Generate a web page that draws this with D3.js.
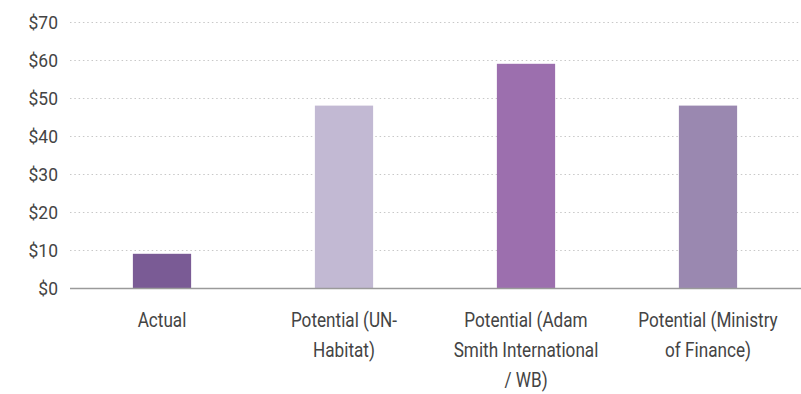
<!DOCTYPE html>
<html>
<head>
<meta charset="utf-8">
<script src="https://cdn.jsdelivr.net/npm/d3@7"></script>
<style>
  html, body { margin: 0; padding: 0; background: #fff; }
  svg { display: block; }
  text { font-family: Roboto, "Noto Sans", sans-serif; }
</style>
</head>
<body>
<svg id="chart" width="801" height="394"></svg>
<script>
const categories = ["Actual", "Potential (UN-Habitat)", "Potential (Adam Smith International / WB)", "Potential (Ministry of Finance)"];
const tickLabelLines = [["Actual"], ["Potential (UN-", "Habitat)"], ["Potential (Adam", "Smith International", "/ WB)"], ["Potential (Ministry", "of Finance)"]];
const values = [9, 48, 59, 48];
const colors = ["#7a5b95", "#c2b9d3", "#9c6fae", "#9a88b0"];
const yTicks = [0, 10, 20, 30, 40, 50, 60, 70];

(function() {
const svg = d3.select("#chart");
const mLeft = 71, mRight = 799, mTop = 22, mBottom = 288;

const x = d3.scaleBand().domain(categories).range([mLeft, mRight]).paddingInner(0.68).paddingOuter(0.34);
const y = d3.scaleLinear().domain([0, 70]).range([mBottom, mTop]);

// gridlines
svg.append("g").selectAll("line").data(yTicks.filter(d => d > 0)).join("line")
  .attr("x1", mLeft - 1).attr("x2", 801)
  .attr("y1", d => Math.round(y(d)) + 0.5).attr("y2", d => Math.round(y(d)) + 0.5)
  .attr("stroke", "#c8c8c8").attr("stroke-width", 1).attr("stroke-dasharray", "1.5,2.8");

// y axis labels
const yAxis = d3.axisLeft(y).tickValues(yTicks).tickSize(0).tickPadding(0).tickFormat(d => "$" + d);
const gy = svg.append("g").attr("transform", `translate(${mLeft - 13},0)`).call(yAxis);
gy.select(".domain").remove();
gy.selectAll("text").attr("fill", "#444").attr("dy", "0.34em").attr("transform", "scale(0.92,1)")
  .style("font-size", "19px").style("font-family", "Roboto, sans-serif");

// bars
svg.append("g").selectAll("rect").data(values).join("rect")
  .attr("x", (d, i) => x(categories[i]))
  .attr("width", x.bandwidth())
  .attr("y", d => y(d))
  .attr("height", d => y(0) - y(d))
  .attr("fill", (d, i) => colors[i]);

// baseline
svg.append("line").attr("x1", mLeft - 1).attr("x2", 801)
  .attr("y1", mBottom + 0.5).attr("y2", mBottom + 0.5)
  .attr("stroke", "#9a9a9a").attr("stroke-width", 1.5);

// x labels
const xAxis = d3.axisBottom(x).tickSize(0).tickFormat("");
const gx = svg.append("g").attr("transform", `translate(0,${mBottom})`).call(xAxis);
gx.select(".domain").remove();
gx.selectAll(".tick").each(function(d, i) {
  const t = d3.select(this).append("text")
    .attr("text-anchor", "middle").attr("fill", "#444").attr("transform", "scale(0.88,1)")
    .style("font-size", "19.5px");
  tickLabelLines[i].forEach((line, j) => {
    t.append("tspan").attr("x", 0).attr("y", 39 + j * 30).text(line);
  });
});
})();
</script>
</body>
</html>
